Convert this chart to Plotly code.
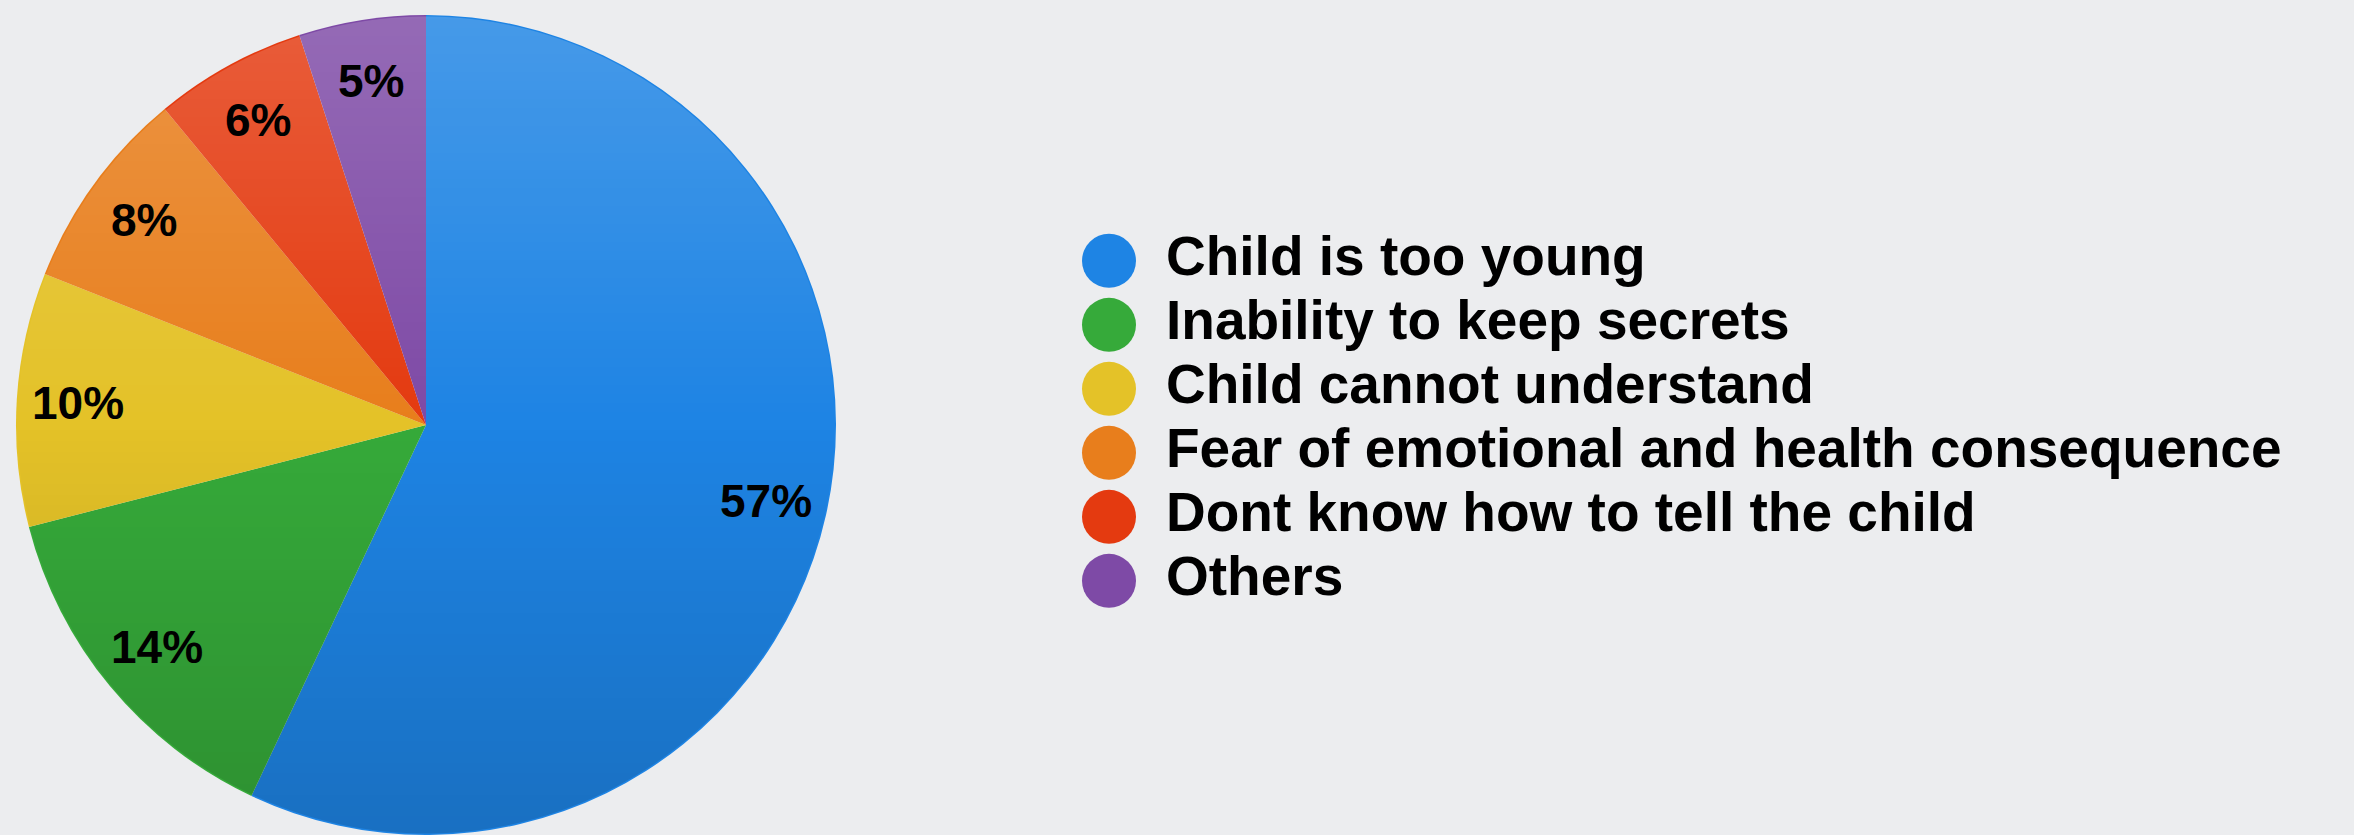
import base64
import math
import struct
import zlib

import numpy as np
import plotly.graph_objects as go

categories = ["Child is too young", "Inability to keep secrets", "Child cannot understand",
              "Fear of emotional and health consequence", "Dont know how to tell the child", "Others"]
values = [57, 14, 10, 8, 6, 5]
colors = ["#1e84e4", "#36aa3a", "#e4c228", "#e87e1c", "#e43a10", "#7e4aa6"]

W, H = 2354, 835
TOP = 15
R = (H - TOP) / 2            # pie radius in px
CX = 16 + R                  # pie centre x in px
CY = TOP + R                 # pie centre y in px


def png_data_uri(rgba):
    h, w, _ = rgba.shape
    raw = b"".join(b"\x00" + rgba[i].tobytes() for i in range(h))

    def chunk(tag, data):
        c = struct.pack(">I", len(data)) + tag + data
        return c + struct.pack(">I", zlib.crc32(tag + data) & 0xffffffff)

    png = (b"\x89PNG\r\n\x1a\n" + chunk(b"IHDR", struct.pack(">IIBBBBB", w, h, 8, 6, 0, 0, 0))
           + chunk(b"IDAT", zlib.compress(raw, 9)) + chunk(b"IEND", b""))
    return "data:image/png;base64," + base64.b64encode(png).decode()


# glossy vertical shading over the pie (light at top, dark at bottom)
S = int(2 * R)
yy, xx = np.mgrid[0:S, 0:S] + 0.5
c = S / 2
dist = np.hypot(xx - c, yy - c)
mask = np.clip(c - 1.0 - dist, 0, 1)
v = (yy - c) / c
alpha = np.where(v < 0, 0.18 * -v, 0.15 * v) * mask
img = np.zeros((S, S, 4), dtype=np.uint8)
img[..., :3] = np.where(v < 0, 255, 0)[..., None]
img[..., 3] = np.round(alpha * 255).astype(np.uint8)
shade_uri = png_data_uri(img)

fig = go.Figure()
fig.add_trace(go.Pie(
    labels=categories, values=values, sort=False, direction="clockwise", rotation=0,
    marker=dict(colors=colors, line=dict(width=0)),
    textinfo="none",
    domain=dict(x=[16 / W, (16 + 2 * R) / W], y=[0, 1]),
    showlegend=False, hoverinfo="label+percent",
))

# percentage labels placed at the middle angle of each slice
total = sum(values)
cum = 0
annotations = []
for val in values:
    ang = math.radians((cum + val / 2) / total * 360)
    cum += val
    px = CX + 0.85 * R * math.sin(ang)
    py = CY - 0.85 * R * math.cos(ang)
    annotations.append(dict(
        x=px / W, y=1 - (py - TOP) / (H - TOP), xref="paper", yref="paper",
        text=f"{val}%", showarrow=False, xanchor="center", yanchor="middle",
        font=dict(family="Liberation Sans", size=46, color="black", weight="bold"),
    ))

idx = list(range(len(categories)))
fig.add_trace(go.Scatter(
    x=[0] * len(categories), y=idx, mode="markers",
    marker=dict(size=54, color=colors, line=dict(width=0)),
    showlegend=False, hoverinfo="skip", cliponaxis=False,
))
fig.add_trace(go.Scatter(
    x=[57] * len(categories), y=idx, mode="text", text=categories, textposition="middle right",
    textfont=dict(family="Liberation Sans", size=55, color="black", weight="bold"),
    showlegend=False, hoverinfo="skip", cliponaxis=False,
))

fig.update_layout(
    width=W, height=H,
    margin=dict(l=0, r=0, t=TOP, b=0),
    paper_bgcolor="#ecedef", plot_bgcolor="rgba(0,0,0,0)",
    xaxis=dict(domain=[1109 / W, 1], range=[0, W - 1109], visible=False, fixedrange=True),
    yaxis=dict(range=[8.97, -3.84], visible=False, fixedrange=True),
    annotations=annotations,
    images=[dict(source=shade_uri, xref="paper", yref="paper", x=16 / W, y=1,
                 sizex=2 * R / W, sizey=1, xanchor="left", yanchor="top",
                 sizing="stretch", layer="above")],
)

fig.write_html("out.html", config={"displayModeBar": False},
               post_script="document.body.style.margin='0';document.body.style.background='#ecedef';")
